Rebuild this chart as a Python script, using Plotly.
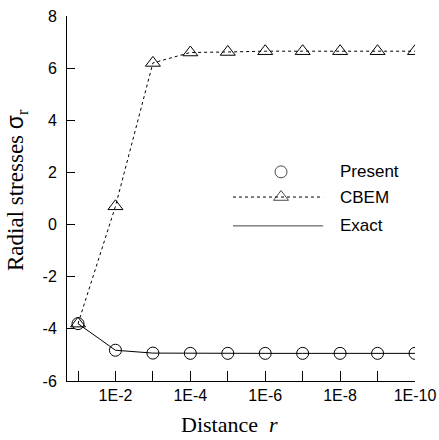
import plotly.graph_objects as go

# Data
exponents = [1, 2, 3, 4, 5, 6, 7, 8, 9, 10]
tick_text = ["" if e % 2 else f"1E-{e}" for e in exponents]
y_ticks = [-6, -4, -2, 0, 2, 4, 6, 8]
y_tick_text = [str(v) for v in y_ticks]
present = [-3.8, -4.82, -4.93, -4.94, -4.94, -4.94, -4.94, -4.94, -4.94, -4.94]
cbem = [-3.8, 0.7, 6.2, 6.6, 6.62, 6.65, 6.65, 6.65, 6.65, 6.65]
exact = [-3.8, -4.82, -4.93, -4.94, -4.94, -4.94, -4.94, -4.94, -4.94, -4.94]
legend_names = ["Present", "CBEM", "Exact"]
x_title = "Distance\u00a0\u00a0<i>r</i>"
y_title = "Radial stresses <span style='font-family:Liberation Sans'>σ</span><sub>r</sub>"

SANS = "Liberation Sans, Arial, sans-serif"
SERIF = "Liberation Serif, Times New Roman, serif"

fig = go.Figure()
fig.add_trace(go.Scatter(x=exponents, y=exact, mode="lines",
                         line=dict(color="black", width=1), showlegend=False))
fig.add_trace(go.Scatter(x=exponents, y=cbem, mode="lines+markers",
                         line=dict(color="black", width=1, dash="3px,3px"),
                         marker=dict(symbol="triangle-up-open", size=13, color="black",
                                     line=dict(width=1)),
                         showlegend=False))
fig.add_trace(go.Scatter(x=exponents, y=present, mode="markers",
                         marker=dict(symbol="circle-open", size=12, color="black",
                                     line=dict(width=1)),
                         showlegend=False))

# Manual legend (paper coordinates)
leg_x_line = (0.477, 0.736)
leg_x_mark = 0.615
leg_x_text = 0.779
leg_y = [0.573, 0.504, 0.425]
fig.add_trace(go.Scatter(x=[leg_x_mark, leg_x_mark], y=[leg_y[0], leg_y[1]],
                         mode="markers", xaxis="x2", yaxis="y2", showlegend=False,
                         marker=dict(symbol=["circle-open", "triangle-up-open"],
                                     size=[12, 13], color="black", line=dict(width=1))))
fig.add_shape(type="line", xref="paper", yref="paper", x0=leg_x_line[0], x1=leg_x_line[1],
              y0=leg_y[1], y1=leg_y[1], line=dict(color="black", width=1, dash="3px,3px"))
fig.add_shape(type="line", xref="paper", yref="paper", x0=leg_x_line[0], x1=leg_x_line[1],
              y0=leg_y[2], y1=leg_y[2], line=dict(color="#444", width=1))
for name, yy in zip(legend_names, leg_y):
    fig.add_annotation(xref="paper", yref="paper", x=leg_x_text, y=yy, text=name,
                       showarrow=False, xanchor="left", yanchor="middle",
                       font=dict(family=SANS, size=17, color="black"))

# Axis titles as annotations
fig.add_annotation(xref="paper", yref="paper", x=0.468, y=-0.118, text=x_title,
                   showarrow=False, xanchor="center", yanchor="middle",
                   font=dict(family=SERIF, size=22, color="black"))
fig.add_annotation(xref="paper", yref="paper", x=-0.145, y=0.522, text=y_title,
                   showarrow=False, xanchor="center", yanchor="middle", textangle=-90,
                   font=dict(family=SERIF, size=23, color="black"))

fig.update_layout(
    width=439, height=440,
    margin=dict(l=67, r=24, t=16, b=59),
    paper_bgcolor="white", plot_bgcolor="white",
    showlegend=False,
    xaxis=dict(range=[0.706, 10], tickvals=exponents, ticktext=tick_text,
               ticks="inside", ticklen=10, tickcolor="black", tickwidth=1,
               ticklabeloverflow="allow",
               showline=True, linecolor="black", linewidth=1, mirror=False,
               showgrid=False, zeroline=False, automargin=False,
               tickfont=dict(family=SANS, size=16, color="black")),
    yaxis=dict(range=[-6, 8], tickvals=y_ticks, ticktext=y_tick_text,
               ticks="inside", ticklen=8, tickcolor="black", tickwidth=1,
               ticklabelstandoff=6, ticklabeloverflow="allow",
               showline=True, linecolor="black", linewidth=1, mirror=False,
               showgrid=False, zeroline=False, automargin=False,
               tickfont=dict(family=SANS, size=16, color="black")),
    xaxis2=dict(range=[0, 1], overlaying="x", anchor="y2", visible=False, domain=[0, 1]),
    yaxis2=dict(range=[0, 1], overlaying="y", anchor="x2", visible=False, domain=[0, 1]),
)

fig.write_html("out.html", config={"displayModeBar": False},
               post_script="document.body.style.margin='0';document.body.style.overflow='hidden';")
